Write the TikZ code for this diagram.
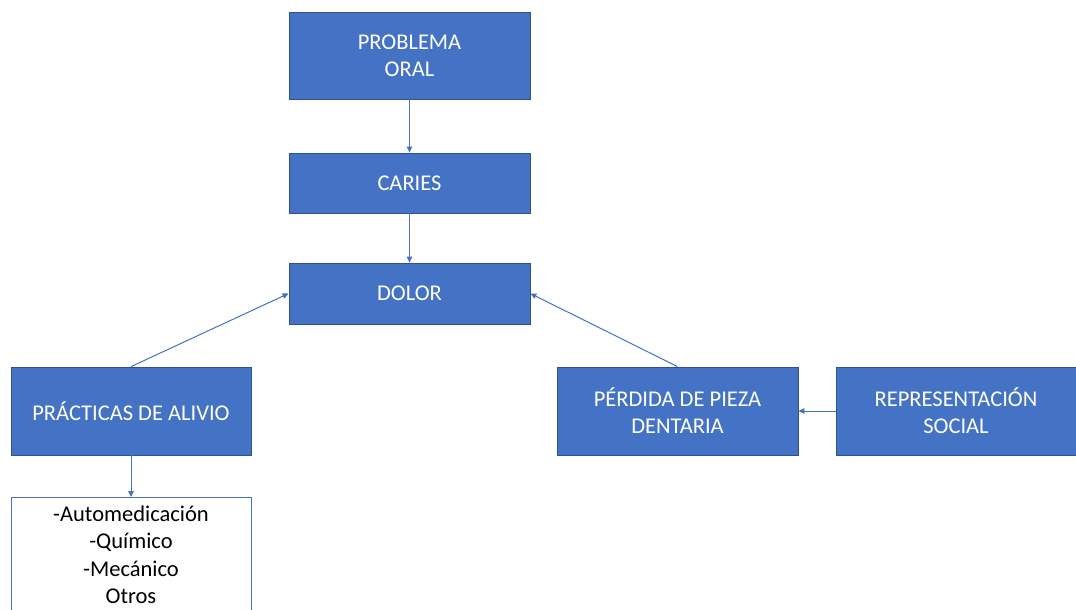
\documentclass[tikz,border=0pt]{standalone}
\usepackage{fontspec}
\setmainfont{Carlito}
\usetikzlibrary{arrows.meta}
\definecolor{boxblue}{HTML}{4472C4}
\definecolor{edgeblue}{HTML}{2F528F}
\tikzset{
  bluebox/.style={draw=edgeblue, line width=0.8pt, fill=boxblue, text=white,
    align=center, inner sep=0pt, minimum width=241pt,
    font=\fontsize{22.5}{27}\selectfont},
  listbox/.style={draw=boxblue, line width=0.9pt, fill=white, text=black,
    inner sep=0pt, minimum width=240pt},
  link/.style={draw=boxblue, line width=1pt, -{Triangle[length=6pt,width=5.5pt]}}
}
\begin{document}
\begin{tikzpicture}[x=1pt,y=-1pt]
\useasboundingbox (0,0) rectangle (1076,610);
% main chain
\node[bluebox, minimum height=87pt] (prob) at (409.5,55.5) {PROBLEMA\\ORAL};
\node[bluebox, minimum height=60pt] (caries) at (409.5,183) {CARIES};
\node[bluebox, minimum height=61pt] (dolor) at (409.5,293.5) {DOLOR};
% lower row
\node[bluebox, minimum height=88pt, minimum width=240pt] (alivio) at (131,411) {PRÁCTICAS DE ALIVIO};
\node[bluebox, minimum height=88pt] (perdida) at (677.5,411) {PÉRDIDA DE PIEZA\\DENTARIA};
\node[bluebox, minimum height=88pt, minimum width=240pt] (repr) at (956,411) {REPRESENTACIÓN\\SOCIAL};
% list of relief practices (runs off the bottom edge)
\node[listbox, minimum height=120pt, anchor=north] (lista) at (131,497) {};
\node[anchor=north, align=center, font=\fontsize{22.5}{27.5}\selectfont, inner sep=0pt] (listatxt) at (131,505.5)
  {-Automedicación\\-Químico\\-Mecánico\\Otros};
% connectors
\draw[link] (prob.south) -- (caries.north);
\draw[link] (caries.south) -- (dolor.north);
\draw[link] (alivio.north) -- (dolor.west);
\draw[link] (perdida.north) -- (dolor.east);
\draw[link] (repr.west) -- (perdida.east);
\draw[link] (alivio.south) -- (lista.north);
\end{tikzpicture}
\end{document}
